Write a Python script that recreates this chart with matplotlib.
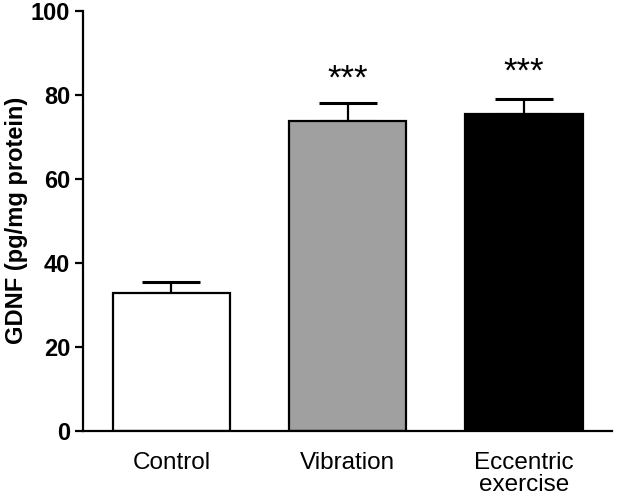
import matplotlib
matplotlib.use("Agg")
import matplotlib.pyplot as plt

categories = ["Control", "Vibration", "Eccentric\nexercise"]
means = [32.9, 73.8, 75.4]
errors = [2.5, 4.2, 3.7]
stars = ["", "***", "***"]
star_y = [0, 81.5, 83.1]
colors = ["white", "#a0a0a0", "black"]
yticks = [0, 20, 40, 60, 80, 100]

plt.rcParams['font.family'] = ['Liberation Sans', 'DejaVu Sans']

fig = plt.figure(figsize=(6.17, 5.0), dpi=100)
ax = fig.add_axes([0.134, 0.1386, 0.858, 0.8394])

x = list(range(len(categories)))
ax.bar(x, means, width=0.665, color=colors, edgecolor="black", linewidth=1.6, zorder=2)
for xi, m, e in zip(x, means, errors):
    ax.errorbar([xi], [m], yerr=[[0], [e]], fmt="none", ecolor="black",
                elinewidth=1.6, capsize=21, capthick=2.2, zorder=1)
for xi, s, sy in zip(x, stars, star_y):
    if s:
        ax.text(xi, sy, s, ha="center", va="baseline", fontsize=25)

ax.set_xlim(-0.503, 2.5)
ax.set_ylim(0, 100)
ax.set_yticks(yticks)
ax.set_yticklabels([str(t) for t in yticks], fontsize=17, fontweight="bold")
ax.set_xticks(x)
ax.set_xticklabels(categories, fontsize=17.5, linespacing=1.05)
ax.tick_params(axis="x", length=0, pad=15)
ax.tick_params(axis="y", length=6, width=1.6, pad=3)
ax.set_ylabel("GDNF (pg/mg protein)", fontsize=17, fontweight="bold", labelpad=2)
for side in ["top", "right"]:
    ax.spines[side].set_visible(False)
for side in ["left", "bottom"]:
    ax.spines[side].set_linewidth(1.6)

fig.savefig("out.png", dpi=100)
